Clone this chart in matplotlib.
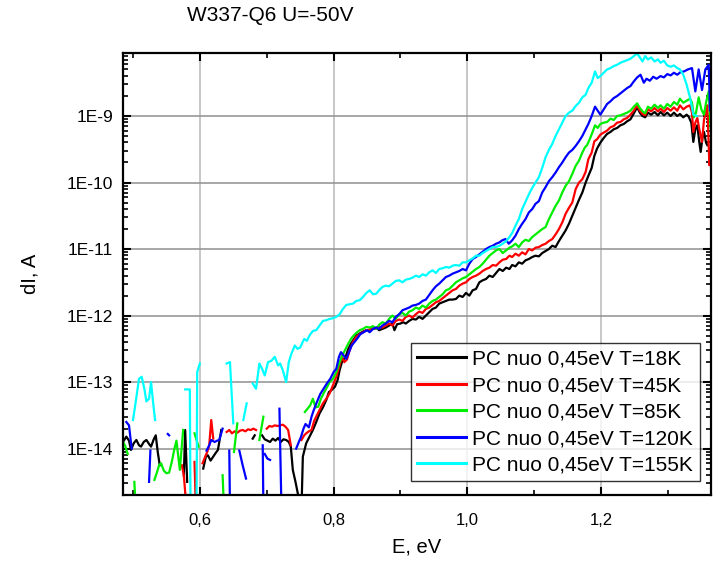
import numpy as np
import matplotlib
matplotlib.use("Agg")
import matplotlib.pyplot as plt
from matplotlib.ticker import FixedLocator, FuncFormatter, MultipleLocator

plt.rcParams['font.family'] = ['Liberation Sans', 'DejaVu Sans']

# data: photon energy (eV) and log10 of dI (A); nan = gap (negative values)
nan = np.nan

e_18 = [0.485, 0.490, 0.494, 0.497, 0.501, 0.505, 0.509, 0.512, 0.516, 0.520, 0.524, 0.527, 0.531, 0.534, 0.537, 0.540, 0.545,
        0.576, 0.578, 0.581, 0.590,
        0.605, 0.609, 0.612, 0.616, 0.620, 0.624, 0.627, 0.632, 0.640,
        0.679, 0.682, 0.688,
        0.693, 0.697, 0.701, 0.705, 0.709, 0.713, 0.717, 0.721, 0.725, 0.729, 0.733, 0.736, 0.739, 0.743, 0.747, 0.749, 0.752,
        0.754, 0.759, 0.764, 0.769, 0.774, 0.779, 0.784, 0.789, 0.793, 0.797, 0.802, 0.806, 0.809, 0.813, 0.818, 0.822, 0.826,
        0.830, 0.834, 0.839, 0.844, 0.849, 0.854, 0.859, 0.864, 0.868, 0.873, 0.878, 0.883, 0.888, 0.891, 0.895, 0.900, 0.904,
        0.908, 0.913, 0.918, 0.923, 0.928, 0.933, 0.938, 0.943, 0.948, 0.953, 0.958, 0.963, 0.968, 0.973, 0.978, 0.983, 0.988,
        0.993, 0.998, 1.003, 1.008, 1.013, 1.018, 1.023, 1.028, 1.033, 1.038, 1.043, 1.048, 1.053, 1.058, 1.063, 1.067, 1.072,
        1.077, 1.082, 1.087, 1.092, 1.097, 1.102, 1.107, 1.112, 1.117, 1.122, 1.127, 1.132, 1.137, 1.142, 1.147, 1.152, 1.157,
        1.162, 1.167, 1.172, 1.177, 1.181, 1.186, 1.190, 1.194, 1.199, 1.204, 1.209, 1.214, 1.219, 1.224, 1.229, 1.234, 1.239,
        1.244, 1.249, 1.254, 1.258, 1.262, 1.266, 1.270, 1.275, 1.280, 1.285, 1.289, 1.294, 1.299, 1.304, 1.309, 1.314, 1.318,
        1.323, 1.328, 1.331, 1.335, 1.338, 1.341, 1.344, 1.347, 1.349, 1.352, 1.354, 1.357, 1.359]
lg_18 = [-13.90, -13.82, -13.88, -14.02, -13.92, -13.87, -13.95, -13.97, -13.90, -13.87, -13.93, -13.97, -13.86, -13.80, -14.05, -14.25, nan,
         -14.40, -13.72, -14.50, nan,
         -14.30, -14.12, -14.10, -14.18, -14.12, -14.06, -14.02, -13.72, nan,
         -13.85, -13.80, nan,
         -13.80, -13.86, -13.88, -13.90, -13.85, -13.88, -13.84, -13.90, -13.86, -13.87, -13.90, -13.97, -14.32, -14.50, -14.70, -14.9, -14.9,
         -14.12, -13.92, -13.82, -13.72, -13.60, -13.47, -13.38, -13.27, -13.15, -13.12, -13.07, -12.97, -12.82, -12.68, -12.62, -12.50, -12.42,
         -12.36, -12.30, -12.27, -12.24, -12.22, -12.22, -12.20, -12.18, -12.22, -12.20, -12.18, -12.15, -12.12, -12.22, -12.13, -12.12, -12.10,
         -12.12, -12.08, -12.05, -12.06, -12.02, -12.05, -12.00, -11.95, -11.90, -11.88, -11.82, -11.80, -11.78, -11.76, -11.76, -11.75, -11.70,
         -11.72, -11.66, -11.70, -11.62, -11.60, -11.50, -11.47, -11.45, -11.40, -11.42, -11.36, -11.30, -11.33, -11.28, -11.30, -11.24, -11.26,
         -11.20, -11.22, -11.17, -11.15, -11.12, -11.10, -11.11, -11.06, -11.03, -11.00, -10.95, -10.97, -10.88, -10.80, -10.72, -10.62, -10.50,
         -10.38, -10.26, -10.15, -10.00, -9.90, -9.78, -9.60, -9.49, -9.40, -9.33, -9.27, -9.24, -9.20, -9.18, -9.14, -9.12, -9.08,
         -9.05, -8.96, -8.87, -8.95, -9.00, -9.02, -8.95, -8.98, -8.94, -8.99, -8.94, -8.99, -8.95, -9.00, -8.95, -9.00, -8.97,
         -9.02, -8.98, -9.01, -9.10, -9.39, -9.20, -9.14, -9.40, -9.54, -9.30, -9.24, -9.40, -9.44]

e_45 = [0.573, 0.576, 0.580, 0.585,
        0.592, 0.594, 0.598,
        0.604, 0.608, 0.611, 0.614, 0.617, 0.620, 0.625,
        0.640, 0.644, 0.648, 0.652, 0.656, 0.660, 0.664, 0.668, 0.672, 0.676, 0.680, 0.684, 0.690,
        0.700, 0.704, 0.708, 0.712, 0.716, 0.720, 0.724, 0.728, 0.732, 0.736, 0.745,
        0.752, 0.756, 0.759, 0.763, 0.767, 0.771, 0.774, 0.779, 0.784, 0.789, 0.794, 0.799, 0.804, 0.809, 0.812, 0.816, 0.820,
        0.824, 0.829, 0.834, 0.839, 0.844, 0.849, 0.854, 0.859, 0.864, 0.868, 0.873, 0.878, 0.883, 0.888, 0.893, 0.898, 0.903,
        0.908, 0.913, 0.918, 0.923, 0.928, 0.933, 0.938, 0.943, 0.948, 0.953, 0.958, 0.963, 0.968, 0.973, 0.978, 0.983, 0.988,
        0.993, 0.998, 1.003, 1.008, 1.013, 1.018, 1.023, 1.028, 1.033, 1.038, 1.043, 1.048, 1.053, 1.058, 1.063, 1.067, 1.072,
        1.077, 1.082, 1.087, 1.092, 1.097, 1.102, 1.107, 1.112, 1.117, 1.122, 1.127, 1.132, 1.137, 1.142, 1.147, 1.152, 1.157,
        1.162, 1.167, 1.172, 1.177, 1.181, 1.186, 1.190, 1.194, 1.199, 1.204, 1.209, 1.214, 1.219, 1.224, 1.229, 1.234, 1.239,
        1.244, 1.249, 1.254, 1.258, 1.262, 1.266, 1.270, 1.275, 1.280, 1.285, 1.289, 1.294, 1.299, 1.304, 1.309, 1.314, 1.318,
        1.323, 1.328, 1.333, 1.336, 1.338, 1.341, 1.344, 1.347, 1.351, 1.354, 1.357, 1.359, 1.362, 1.364]
lg_45 = [-14.25, -14.40, -14.9, nan,
         -14.20, -14.9, nan,
         -14.22, -14.12, -14.05, -13.95, -13.57, -13.85, nan,
         -13.75, -13.72, -13.77, -13.74, -13.76, -13.73, -13.72, -13.74, -13.71, -13.72, -13.70, -13.72, nan,
         -13.70, -13.66, -13.67, -13.65, -13.66, -13.65, -13.64, -13.67, -13.72, -13.95, nan,
         -13.87, -13.80, -13.77, -13.74, -13.72, -13.58, -13.52, -13.42, -13.32, -13.25, -13.17, -13.05, -12.92, -12.75, -12.62, -12.70, -12.66,
         -12.52, -12.40, -12.32, -12.28, -12.25, -12.22, -12.21, -12.19, -12.20, -12.17, -12.18, -12.15, -12.12, -12.15, -12.08, -12.06, -12.08,
         -12.02, -12.00, -12.03, -11.98, -11.94, -11.96, -11.90, -11.88, -11.84, -11.80, -11.78, -11.74, -11.70, -11.66, -11.62, -11.60, -11.55,
         -11.52, -11.50, -11.45, -11.42, -11.40, -11.37, -11.33, -11.30, -11.28, -11.24, -11.25, -11.20, -11.16, -11.15, -11.10, -11.12, -11.07,
         -11.10, -11.05, -11.08, -11.00, -11.02, -10.98, -10.97, -10.94, -10.92, -10.88, -10.85, -10.78, -10.70, -10.60, -10.47, -10.38, -10.30,
         -10.10, -10.00, -9.95, -9.84, -9.65, -9.55, -9.38, -9.35, -9.28, -9.25, -9.22, -9.17, -9.15, -9.10, -9.09, -9.05, -9.03,
         -8.98, -8.92, -8.84, -8.92, -8.97, -8.99, -8.90, -8.93, -8.88, -8.93, -8.89, -8.94, -8.88, -8.92, -8.87, -8.92, -8.84,
         -8.90, -8.86, -8.84, -8.95, -9.24, -9.10, -9.03, -9.20, -9.39, -9.05, -8.95, -8.84, -9.74, -9.49]

e_85 = [0.485, 0.488, 0.492, 0.496,
        0.502, 0.504, 0.510,
        0.532, 0.536, 0.539, 0.542, 0.546, 0.550, 0.554, 0.558, 0.562, 0.565, 0.570, 0.575, 0.580,
        0.592, 0.598, 0.603,
        0.634, 0.636, 0.640,
        0.651, 0.656, 0.660,
        0.689, 0.695, 0.700,
        0.757, 0.761, 0.765, 0.769, 0.773, 0.777, 0.781, 0.786, 0.790, 0.794, 0.799, 0.804, 0.809, 0.813, 0.818, 0.822, 0.826,
        0.830, 0.834, 0.839, 0.844, 0.849, 0.854, 0.859, 0.864, 0.868, 0.873, 0.878, 0.883, 0.888, 0.893, 0.898, 0.903, 0.908,
        0.913, 0.918, 0.923, 0.928, 0.933, 0.938, 0.943, 0.948, 0.953, 0.958, 0.963, 0.968, 0.973, 0.978, 0.983, 0.988, 0.993,
        0.998, 1.003, 1.008, 1.013, 1.018, 1.023, 1.028, 1.033, 1.038, 1.043, 1.048, 1.053, 1.058, 1.063, 1.067, 1.072, 1.077,
        1.082, 1.087, 1.092, 1.097, 1.102, 1.107, 1.112, 1.117, 1.122, 1.127, 1.132, 1.137, 1.142, 1.147, 1.152, 1.157, 1.162,
        1.167, 1.172, 1.176, 1.179, 1.183, 1.187, 1.191, 1.195, 1.199, 1.204, 1.209, 1.214, 1.219, 1.224, 1.229, 1.234, 1.239,
        1.244, 1.249, 1.254, 1.258, 1.262, 1.266, 1.270, 1.275, 1.280, 1.285, 1.289, 1.294, 1.299, 1.304, 1.309, 1.314, 1.318,
        1.323, 1.328, 1.333, 1.336, 1.339, 1.342, 1.346, 1.350, 1.354, 1.357, 1.361, 1.364, 1.366]
lg_85 = [-13.90, -13.95, -14.08, nan,
         -14.50, -14.9, nan,
         -14.47, -14.35, -14.25, -14.22, -14.33, -14.37, -14.36, -14.20, -14.00, -13.88, -14.32, -13.72, nan,
         -13.77, -13.97, nan,
         -14.40, -14.9, nan,
         -14.05, -13.62, nan,
         -13.87, -13.52, nan,
         -13.45, -13.40, -13.35, -13.25, -13.38, -13.37, -13.25, -13.15, -13.08, -13.00, -12.95, -12.85, -12.70, -12.60, -12.50, -12.42, -12.35,
         -12.30, -12.26, -12.22, -12.20, -12.17, -12.18, -12.16, -12.20, -12.14, -12.10, -12.12, -12.05, -12.00, -12.05, -11.98, -11.96, -12.00,
         -11.94, -11.92, -11.88, -11.90, -11.85, -11.88, -11.82, -11.78, -11.76, -11.72, -11.68, -11.62, -11.60, -11.55, -11.50, -11.47, -11.44,
         -11.42, -11.38, -11.34, -11.30, -11.27, -11.22, -11.16, -11.10, -11.06, -11.02, -11.00, -11.06, -11.02, -10.98, -10.96, -10.92, -10.97,
         -10.90, -10.86, -10.88, -10.82, -10.78, -10.74, -10.70, -10.67, -10.55, -10.45, -10.35, -10.27, -10.15, -10.05, -9.98, -9.87, -9.75,
         -9.67, -9.55, -9.47, -9.44, -9.35, -9.25, -9.14, -9.18, -9.12, -9.10, -9.09, -9.04, -9.06, -9.00, -8.99, -8.97, -8.95,
         -8.92, -8.86, -8.81, -8.88, -8.93, -8.96, -8.86, -8.89, -8.83, -8.88, -8.84, -8.89, -8.82, -8.86, -8.79, -8.83, -8.74,
         -8.80, -8.77, -8.74, -8.80, -9.02, -8.95, -8.72, -8.90, -8.98, -8.80, -8.63, -9.20, -9.26]

e_120 = [0.490, 0.494, 0.498, 0.505,
         0.524, 0.526, 0.530,
         0.552, 0.554, 0.560,
         0.610, 0.614, 0.617, 0.622, 0.626, 0.629, 0.634, 0.640,
         0.644, 0.645, 0.650,
         0.659, 0.664, 0.669, 0.675,
         0.694, 0.695, 0.696,
         0.697, 0.701, 0.705, 0.710,
         0.719, 0.722, 0.730,
         0.744, 0.748, 0.751, 0.755, 0.758, 0.763, 0.767, 0.770, 0.775, 0.780, 0.785, 0.790, 0.795, 0.800, 0.804, 0.808, 0.811,
         0.815, 0.819, 0.823, 0.827, 0.831, 0.835, 0.840, 0.845, 0.850, 0.854, 0.859, 0.864, 0.868, 0.873, 0.878, 0.883, 0.888,
         0.893, 0.898, 0.903, 0.908, 0.913, 0.918, 0.923, 0.928, 0.933, 0.938, 0.943, 0.948, 0.953, 0.958, 0.963, 0.968, 0.973,
         0.978, 0.983, 0.988, 0.993, 0.998, 1.003, 1.008, 1.013, 1.018, 1.023, 1.028, 1.033, 1.038, 1.043, 1.048, 1.052, 1.057,
         1.062, 1.067, 1.072, 1.077, 1.082, 1.087, 1.092, 1.097, 1.102, 1.107, 1.112, 1.117, 1.122, 1.127, 1.132, 1.137, 1.142,
         1.147, 1.152, 1.157, 1.162, 1.167, 1.172, 1.177, 1.181, 1.186, 1.191, 1.195, 1.199, 1.204, 1.209, 1.214, 1.219, 1.224,
         1.229, 1.234, 1.239, 1.244, 1.249, 1.254, 1.259, 1.264, 1.268, 1.273, 1.278, 1.283, 1.289, 1.294, 1.299, 1.304, 1.309,
         1.314, 1.319, 1.324, 1.330, 1.336, 1.341, 1.346, 1.351, 1.356, 1.361, 1.363, 1.365]
lg_120 = [-13.60, -13.65, -14.00, nan,
          -14.50, -14.03, nan,
          -13.78, -13.80, nan,
          -14.03, -13.95, -13.87, -13.90, -13.88, -13.87, -13.70, nan,
          -14.03, -14.9, nan,
          -14.03, -14.25, -14.45, nan,
          -13.95, -14.9, nan,
          -14.08, -14.15, -14.17, nan,
          -13.40, -14.9, nan,
          -14.00, -13.90, -13.83, -13.70, -13.63, -13.68, -13.52, -13.43, -13.30, -13.18, -13.10, -13.02, -12.95, -12.85, -12.80, -12.62, -12.55,
          -12.60, -12.65, -12.55, -12.45, -12.40, -12.35, -12.28, -12.25, -12.22, -12.25, -12.20, -12.18, -12.20, -12.15, -12.12, -12.08, -12.10,
          -12.02, -11.98, -11.92, -11.90, -11.88, -11.85, -11.84, -11.82, -11.78, -11.76, -11.69, -11.62, -11.56, -11.52, -11.47, -11.42, -11.40,
          -11.37, -11.35, -11.33, -11.30, -11.32, -11.22, -11.15, -11.12, -11.08, -11.04, -11.00, -10.97, -10.95, -10.92, -10.90, -10.87, -10.85,
          -10.92, -10.87, -10.80, -10.70, -10.62, -10.55, -10.45, -10.40, -10.32, -10.28, -10.15, -10.07, -9.98, -9.92, -9.85, -9.77, -9.70,
          -9.62, -9.55, -9.51, -9.45, -9.38, -9.30, -9.20, -9.12, -9.00, -8.86, -8.92, -8.98, -8.90, -8.82, -8.78, -8.73, -8.70,
          -8.66, -8.62, -8.58, -8.55, -8.48, -8.42, -8.38, -8.50, -8.44, -8.47, -8.41, -8.44, -8.40, -8.42, -8.37, -8.39, -8.35,
          -8.38, -8.34, -8.33, -8.30, -8.28, -8.63, -8.30, -8.61, -8.30, -8.23, -8.92, -8.60]

e_155 = [0.500, 0.504, 0.509, 0.513, 0.517, 0.520, 0.524, 0.527, 0.530, 0.533, 0.540,
         0.578, 0.582, 0.585, 0.586, 0.590,
         0.595, 0.596, 0.600, 0.610,
         0.640, 0.645, 0.650, 0.655,
         0.665, 0.670, 0.675,
         0.679, 0.684, 0.689, 0.693, 0.697, 0.702, 0.707, 0.712, 0.717, 0.720, 0.724, 0.729, 0.733, 0.737, 0.742, 0.746, 0.750,
         0.756, 0.760, 0.764, 0.769, 0.774, 0.779, 0.784, 0.789, 0.794, 0.799, 0.804, 0.809, 0.814, 0.819, 0.824, 0.829, 0.834,
         0.839, 0.844, 0.849, 0.854, 0.859, 0.864, 0.868, 0.873, 0.878, 0.883, 0.888, 0.893, 0.898, 0.903, 0.908, 0.913, 0.918,
         0.923, 0.928, 0.933, 0.938, 0.943, 0.948, 0.953, 0.958, 0.963, 0.968, 0.973, 0.978, 0.983, 0.988, 0.993, 0.998, 1.003,
         1.008, 1.013, 1.018, 1.023, 1.028, 1.033, 1.038, 1.043, 1.048, 1.053, 1.058, 1.063, 1.067, 1.072, 1.077, 1.082, 1.087,
         1.092, 1.097, 1.102, 1.107, 1.112, 1.117, 1.122, 1.127, 1.132, 1.137, 1.142, 1.147, 1.152, 1.157, 1.162, 1.167, 1.172,
         1.177, 1.181, 1.186, 1.191, 1.195, 1.199, 1.204, 1.209, 1.214, 1.219, 1.224, 1.229, 1.234, 1.239, 1.244, 1.249, 1.254,
         1.258, 1.262, 1.266, 1.270, 1.275, 1.280, 1.285, 1.289, 1.294, 1.299, 1.304, 1.309, 1.314, 1.318, 1.323, 1.328, 1.333,
         1.338, 1.343]
lg_155 = [-13.57, -13.30, -12.95, -12.92, -13.10, -13.29, -13.25, -13.00, -13.30, -13.57, nan,
          -13.11, -13.11, -13.11, -14.9, nan,
          -14.9, -12.85, -12.72, nan,
          -12.72, -12.70, -13.62, nan,
          -13.57, -13.32, nan,
          -13.02, -13.10, -12.72, -12.80, -12.90, -12.70, -12.68, -12.62, -12.75, -12.72, -12.82, -13.00, -12.70, -12.57, -12.45, -12.50, -12.48,
          -12.35, -12.38, -12.30, -12.23, -12.22, -12.15, -12.08, -12.07, -12.05, -12.04, -12.02, -11.98, -11.90, -11.84, -11.83, -11.82, -11.78,
          -11.77, -11.72, -11.66, -11.62, -11.68, -11.67, -11.62, -11.57, -11.55, -11.56, -11.52, -11.48, -11.47, -11.50, -11.46, -11.45, -11.43,
          -11.40, -11.42, -11.38, -11.40, -11.35, -11.32, -11.36, -11.30, -11.29, -11.27, -11.28, -11.25, -11.24, -11.25, -11.20, -11.20, -11.17,
          -11.14, -11.10, -11.10, -11.06, -11.03, -11.00, -10.97, -10.97, -10.95, -10.92, -10.88, -10.82, -10.76, -10.65, -10.55, -10.40, -10.29,
          -10.18, -10.08, -10.00, -9.92, -9.78, -9.62, -9.51, -9.42, -9.30, -9.20, -9.10, -9.00, -8.95, -8.92, -8.85, -8.80, -8.72,
          -8.68, -8.58, -8.50, -8.33, -8.43, -8.40, -8.35, -8.30, -8.28, -8.25, -8.23, -8.20, -8.18, -8.16, -8.14, -8.10, -8.06,
          -8.12, -8.18, -8.10, -8.15, -8.12, -8.18, -8.15, -8.20, -8.17, -8.24, -8.26, -8.24, -8.28, -8.30, -8.38, -8.53, -8.72,
          -8.98, -9.00]

labels = ["PC nuo 0,45eV T=18K", "PC nuo 0,45eV T=45K", "PC nuo 0,45eV T=85K",
          "PC nuo 0,45eV T=120K", "PC nuo 0,45eV T=155K"]
colors = ["#000000", "#ff0000", "#00ee00", "#0000ff", "#00ffff"]
series = [(e_18, lg_18), (e_45, lg_45), (e_85, lg_85), (e_120, lg_120), (e_155, lg_155)]

x_ticks = [0.6, 0.8, 1.0, 1.2]
y_decades = [-14, -13, -12, -11, -10, -9]

fig = plt.figure(figsize=(7.15, 5.62), dpi=100)
ax = fig.add_axes([0.172, 0.119, 0.822, 0.787])

for (e, lg), c, lab in zip(series, colors, labels):
    ax.plot(e, 10.0 ** np.array(lg), color=c, lw=1.6, label=lab)

ax.set_yscale('log')
ax.set_xlim(0.485, 1.364)
ax.set_ylim(2.0e-15, 8.9e-9)

ax.xaxis.set_major_locator(FixedLocator(x_ticks))
ax.xaxis.set_minor_locator(MultipleLocator(0.1))
ax.xaxis.set_major_formatter(FuncFormatter(lambda v, p: f"{v:.1f}".replace('.', ',')))

# decade ticks + log minor ticks
minor_y = [m * 10.0 ** d for d in range(-15, -8) for m in range(2, 10)]
ax.yaxis.set_major_locator(FixedLocator([10.0 ** d for d in y_decades]))
ax.yaxis.set_minor_locator(FixedLocator(minor_y))
ax.yaxis.set_major_formatter(FuncFormatter(lambda v, p: f"1E{int(round(np.log10(v)))}"))
ax.yaxis.set_minor_formatter(FuncFormatter(lambda v, p: ""))

ax.tick_params(which='both', direction='in', top=True, right=True, labelsize=12.5)
ax.tick_params(which='major', length=6, width=1.5)
ax.tick_params(axis='y', which='major', pad=7)
ax.tick_params(axis='x', which='major', pad=13, labelsize=12)
ax.tick_params(which='minor', length=3.5, width=1.2)
for s in ax.spines.values():
    s.set_linewidth(1.6)

ax.grid(True, which='major', axis='x', color='#b8b8b8', lw=1.1)
ax.grid(True, which='major', axis='y', color='#909090', lw=1.1)
ax.set_axisbelow(True)

ax.set_xlabel('E, eV', fontsize=14.5)
ax.set_ylabel('dI, A', fontsize=14.5)
ax.xaxis.set_label_coords(0.5, -0.095)
ax.yaxis.set_label_coords(-0.142, 0.5)

fig.text(0.378, 0.972, 'W337-Q6 U=-50V', fontsize=15, ha='center', va='center')

leg = ax.legend(loc='lower right', bbox_to_anchor=(0.981, 0.032), borderaxespad=0,
                fontsize=15, frameon=True, fancybox=False, handlelength=2.35,
                handletextpad=0.3, labelspacing=0.36, borderpad=0.3)
leg.get_frame().set_edgecolor('black')
leg.get_frame().set_linewidth(1.0)
for ln in leg.get_lines():
    ln.set_linewidth(2.2)

fig.savefig('out.png', dpi=100)
